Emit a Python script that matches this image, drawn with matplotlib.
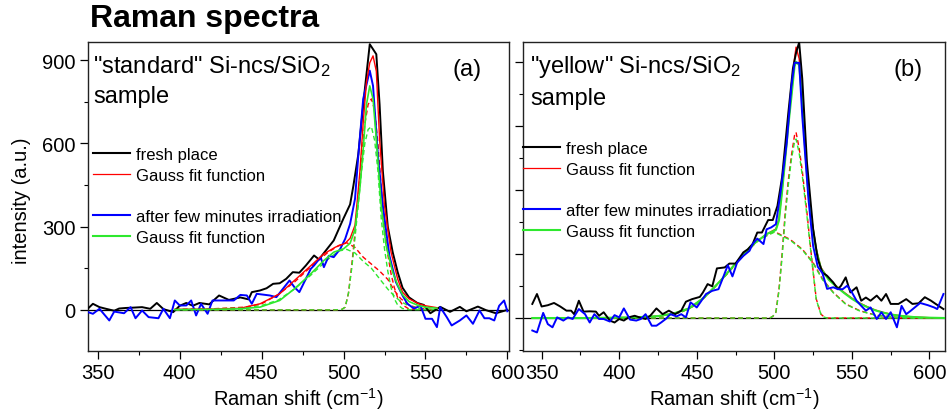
import matplotlib
matplotlib.use("Agg")
import matplotlib.pyplot as plt
from matplotlib.lines import Line2D
from matplotlib.ticker import MultipleLocator

plt.rcParams['font.family'] = ['Liberation Sans', 'DejaVu Sans']
plt.rcParams['mathtext.fontset'] = 'custom'
plt.rcParams['mathtext.rm'] = 'Liberation Sans'
plt.rcParams['mathtext.it'] = 'Liberation Sans:italic'
plt.rcParams['mathtext.bf'] = 'Liberation Sans:bold'

# ---- panel (a): "standard" sample ----
a_black_x = [344, 347, 351, 355, 360, 363, 367, 371, 377, 382, 386, 390, 396, 400, 404,
             408, 412, 418, 424, 430, 437, 442, 444, 449, 453, 457, 461, 465, 469, 473,
             477, 482, 485, 490, 494, 497, 500, 504, 506, 509, 513, 516, 520, 522, 524,
             527, 530, 533, 536, 540, 545, 549, 553, 559, 565, 571, 575, 582, 587, 593, 600]
a_black_y = [5, 22, 10, 4, -3, 5, 7, 8, 10, 4, 25, 3, -8, 15, 25,
             15, 25, 20, 52, 36, 45, 38, 64, 70, 78, 94, 96, 112, 136, 134,
             160, 196, 182, 220, 250, 290, 330, 380, 447, 560, 795, 957, 921, 740, 500,
             300, 208, 137, 80, 45, 25, 18, -12, 11, -7, 11, -5, 12, -1, -12, 0]

a_blue_x = [344, 347, 351, 357, 360, 366, 370, 373, 377, 381, 387, 390, 394, 397, 400,
            404, 407, 410, 413, 417, 420, 425, 433, 437, 441, 444, 447, 451, 455, 459,
            463, 467, 470, 473, 476, 480, 482, 486, 488, 491, 494, 498, 501, 504, 507,
            509, 512, 516, 518, 521, 524, 528, 532, 536, 539, 543, 547, 550, 554, 557,
            559, 563, 566, 571, 575, 579, 583, 586, 589, 592, 595, 598, 600]
a_blue_y = [-8, -14, 4, -38, -6, -12, 10, -30, -2, -26, -30, 4, -30, 34, 16,
            16, 34, -20, 22, -14, 34, 34, 34, 54, 52, 22, 58, 55, 52, 46,
            76, 106, 82, 64, 100, 148, 160, 190, 154, 195, 190, 220, 256, 310, 400,
            555, 760, 862, 807, 555, 375, 195, 100, 52, 22, 5, 15, -32, -32, -62,
            10, -26, -56, -38, -20, -50, -2, -30, -30, -38, 15, 34, -5]

a_redfit_x = [397, 420, 437, 449, 461, 470, 479, 488, 495, 501, 504, 507, 510, 512, 514,
              516, 518, 520, 522, 525, 529, 533, 536, 540, 546, 550, 557]
a_redfit_y = [2, 3, 6, 22, 58, 106, 154, 202, 226, 240, 258, 305, 500, 675, 820,
              890, 915, 860, 615, 375, 208, 112, 64, 40, 22, 15, 8]

a_greenfit_x = [397, 420, 437, 449, 461, 470, 479, 488, 494, 500, 504, 507, 510, 512, 514,
                516, 518, 520, 523, 526, 530, 533, 536, 540, 546, 550, 557]
a_greenfit_y = [1, 2, 4, 10, 34, 76, 124, 178, 208, 220, 240, 290, 440, 580, 740,
                807, 760, 615, 375, 231, 136, 90, 55, 30, 15, 10, 6]

a_comp_x = [397, 420, 440, 450, 460, 470, 480, 490, 497, 502, 507, 512, 517, 522, 527,
            531, 535, 540, 545, 550, 557]
a_red_broad = [2, 4, 10, 22, 55, 100, 155, 205, 232, 242, 225, 190, 165, 140, 110,
               70, 40, 18, 7, 3, 1]
a_green_broad = [1, 3, 8, 16, 35, 75, 125, 180, 212, 218, 205, 175, 150, 112, 75,
                 50, 30, 14, 7, 3, 1]

a_narrow_x = [397, 495, 499, 501, 503, 505, 507, 509, 511, 513, 515, 517, 519, 521, 523,
              525, 527, 529, 531, 533, 536, 540, 557]
a_red_narrow = [0, 0, 2, 10, 60, 160, 280, 410, 550, 670, 740, 760, 720, 600, 440,
                310, 200, 130, 80, 45, 18, 3, 0]
a_green_narrow = [0, 0, 2, 10, 60, 150, 260, 380, 500, 600, 650, 660, 610, 500, 330,
                  220, 140, 80, 40, 18, 5, 1, 0]

# ---- panel (b): "yellow" sample ----
b_black_x = [344, 347, 350, 354, 358, 362, 366, 369, 371, 374, 377, 381, 385, 387, 390,
             394, 397, 400, 403, 406, 410, 413, 417, 420, 424, 428, 432, 436, 440, 443,
             447, 452, 454, 457, 460, 463, 468, 471, 475, 480, 483, 486, 489, 492, 496,
             499, 502, 505, 509, 512, 514, 516, 518, 521, 525, 528, 531, 534, 538, 541,
             543, 546, 549, 553, 556, 559, 562, 566, 569, 572, 575, 580, 585, 589, 593,
             597, 601, 604, 609]
b_black_y = [44, 75, 36, 40, 47, 36, 23, 23, 12, 54, 20, 21, 20, 7, 18,
             -8, -14, -3, -8, 2, 7, 2, -3, 7, 30, 12, 23, 12, 23, 51,
             59, 66, 80, 106, 99, 155, 158, 170, 170, 205, 215, 231, 267, 267, 306,
             306, 350, 440, 640, 780, 828, 861, 747, 487, 278, 184, 142, 132, 111, 90,
             101, 127, 80, 96, 54, 64, 54, 70, 54, 75, 44, 44, 59, 44, 46,
             65, 54, 44, 28]

b_blue_x = [344, 347, 351, 354, 357, 360, 364, 367, 370, 374, 378, 381, 384, 387, 390,
            394, 397, 400, 403, 407, 411, 414, 417, 421, 424, 427, 430, 433, 437, 440,
            443, 446, 450, 453, 456, 460, 464, 467, 470, 473, 476, 480, 484, 486, 489,
            493, 495, 498, 501, 504, 508, 511, 513, 516, 518, 522, 525, 528, 531, 534,
            538, 541, 544, 547, 550, 553, 556, 559, 562, 566, 569, 572, 575, 579, 582,
            585, 588, 594, 599, 603, 605, 609]
b_blue_y = [-39, -45, 16, -19, -29, 2, -8, 2, -3, 28, 12, -14, 12, -3, -3,
            -11, 9, 2, 30, -5, -8, -3, 12, -24, -24, -14, -3, 12, 5, 12,
            2, 49, 33, 54, 75, 85, 90, 127, 165, 130, 173, 194, 210, 231, 248,
            231, 277, 283, 293, 392, 548, 724, 797, 797, 631, 371, 225, 160, 140, 91,
            96, 90, 90, 101, 80, 54, 38, 23, 33, -3, 18, -3, 18, -29, 38,
            12, 23, 47, 40, 33, 28, 75]

b_fit_x = [344, 380, 410, 425, 435, 445, 455, 465, 475, 485, 495, 501, 503, 505, 507,
           509, 511, 513, 514, 516, 518, 520, 522, 524, 527, 530, 535, 540, 545, 550,
           555, 560, 565, 570, 575, 581, 590, 600, 610]
b_redfit_y = [0, 0, 2, 6, 14, 30, 65, 115, 170, 225, 262, 278, 310, 400, 500,
              610, 700, 810, 846, 810, 690, 530, 400, 310, 216, 158, 122, 100, 80, 62,
              47, 35, 25, 18, 12, 7, 3, 1, 0]
b_greenfit_y = [0, 0, 2, 6, 14, 30, 65, 115, 170, 225, 262, 275, 305, 395, 495,
                600, 690, 785, 800, 790, 680, 520, 390, 305, 212, 155, 120, 98, 78, 60,
                45, 34, 24, 17, 11, 7, 3, 1, 0]

b_broad_x = [344, 400, 420, 430, 440, 450, 460, 470, 480, 490, 500, 510, 518, 525, 531,
             538, 546, 555, 566, 580, 595, 610]
b_red_broad = [0, 1, 3, 8, 18, 42, 88, 140, 195, 245, 270, 246, 215, 173, 122,
               80, 44, 23, 8, 2, 0, 0]
b_green_broad = [0, 1, 3, 8, 18, 42, 88, 140, 195, 245, 268, 244, 213, 171, 120,
                 79, 43, 22, 8, 2, 0, 0]

b_narrow_x = [344, 497, 499, 501, 503, 505, 507, 509, 511, 513, 514, 516, 518, 521, 524,
              527, 530, 532, 534, 610]
b_red_narrow = [0, 0, 5, 18, 90, 200, 330, 430, 507, 570, 580, 530, 460, 330, 190,
                60, 12, 4, 0, 0]
b_green_narrow = [0, 0, 5, 18, 85, 190, 315, 415, 495, 550, 559, 515, 445, 320, 185,
                  58, 12, 3, 0, 0]

LIME = '#2ee82e'
DASH = (3.5, 2.2)


def style_axes(ax, xlim, ylim, yticks, yminor, show_ylabels):
    ax.set_xlim(*xlim)
    ax.set_ylim(*ylim)
    ax.xaxis.set_major_locator(MultipleLocator(50))
    ax.xaxis.set_minor_locator(MultipleLocator(25))
    ax.yaxis.set_major_locator(MultipleLocator(yticks))
    ax.yaxis.set_minor_locator(MultipleLocator(yminor))
    ax.tick_params(which='major', direction='out', length=6, width=0.9,
                   labelsize=14.5, pad=3, top=False, right=False)
    ax.tick_params(which='minor', direction='out', length=3, width=0.8,
                   top=False, right=False)
    if not show_ylabels:
        ax.tick_params(axis='y', labelleft=False)
    for s in ax.spines.values():
        s.set_linewidth(1.0)
        s.set_color('#222222')
    ax.set_xlabel('Raman shift (cm$^{-1}$)', fontsize=14.5, labelpad=2)
    ax.axhline(0, color='black', lw=0.9, zorder=1)


def add_legend(ax, x0, y0):
    handles = [Line2D([], [], color='black', lw=1.5),
               Line2D([], [], color='red', lw=0.9),
               Line2D([], [], color='none'),
               Line2D([], [], color='blue', lw=1.5),
               Line2D([], [], color=LIME, lw=1.5)]
    labels = ['fresh place', 'Gauss fit function', ' ',
              'after few minutes irradiation', 'Gauss fit function']
    ax.legend(handles, labels, loc='upper left', bbox_to_anchor=(x0, y0),
              frameon=False, fontsize=12, handlelength=2.2, handletextpad=0.35,
              labelspacing=0.34, borderpad=0, borderaxespad=0)


fig = plt.figure(figsize=(9.52, 4.14), dpi=100)
ax_a = fig.add_axes([88 / 952, 62 / 414, 421 / 952, 309 / 414])
ax_b = fig.add_axes([523 / 952, 62 / 414, 422 / 952, 309 / 414])

# panel (a)
ax_a.plot(a_comp_x, a_red_broad, color='red', lw=1.0, dashes=DASH, zorder=3)
ax_a.plot(a_narrow_x, a_red_narrow, color='red', lw=1.0, dashes=DASH, zorder=3)
ax_a.plot(a_comp_x, a_green_broad, color=LIME, lw=1.0, dashes=DASH, zorder=3)
ax_a.plot(a_narrow_x, a_green_narrow, color=LIME, lw=1.0, dashes=DASH, zorder=3)
ax_a.plot(a_black_x, a_black_y, color='black', lw=1.4, zorder=4)
ax_a.plot(a_blue_x, a_blue_y, color='blue', lw=1.4, zorder=4)
ax_a.plot(a_redfit_x, a_redfit_y, color='red', lw=1.0, zorder=5)
ax_a.plot(a_greenfit_x, a_greenfit_y, color=LIME, lw=1.2, zorder=5)
style_axes(ax_a, (344, 601), (-148, 965), 300, 150, True)
ax_a.set_ylabel('intensity (a.u.)', fontsize=14.5)
ax_a.yaxis.set_label_coords(-0.135, 0.49)
ax_a.text(0.012, 0.903, '"standard" Si-ncs/SiO$_2$', transform=ax_a.transAxes,
          fontsize=17, va='baseline', ha='left')
ax_a.text(0.012, 0.806, 'sample', transform=ax_a.transAxes,
          fontsize=17, va='baseline', ha='left')
ax_a.text(0.936, 0.893, '(a)', transform=ax_a.transAxes,
          fontsize=17, va='baseline', ha='right')
add_legend(ax_a, 0.012, 0.660)

# panel (b)
ax_b.plot(b_broad_x, b_red_broad, color='red', lw=1.0, dashes=DASH, zorder=3)
ax_b.plot(b_narrow_x, b_red_narrow, color='red', lw=1.0, dashes=DASH, zorder=3)
ax_b.plot(b_broad_x, b_green_broad, color=LIME, lw=1.0, dashes=DASH, zorder=3)
ax_b.plot(b_narrow_x, b_green_narrow, color=LIME, lw=1.0, dashes=DASH, zorder=3)
ax_b.plot(b_fit_x, b_redfit_y, color='red', lw=1.0, zorder=4)
ax_b.plot(b_fit_x, b_greenfit_y, color=LIME, lw=1.5, zorder=4)
ax_b.plot(b_black_x, b_black_y, color='black', lw=1.4, zorder=5)
ax_b.plot(b_blue_x, b_blue_y, color='blue', lw=1.4, zorder=5)
style_axes(ax_b, (338, 610), (-103, 862), 200, 100, False)
ax_b.text(0.017, 0.903, '"yellow" Si-ncs/SiO$_2$', transform=ax_b.transAxes,
          fontsize=17, va='baseline', ha='left')
ax_b.text(0.017, 0.800, 'sample', transform=ax_b.transAxes,
          fontsize=17, va='baseline', ha='left')
ax_b.text(0.948, 0.893, '(b)', transform=ax_b.transAxes,
          fontsize=17, va='baseline', ha='right')
add_legend(ax_b, 0.0, 0.680)

fig.text(90 / 952, 1 - 27 / 414, 'Raman spectra', fontsize=23,
         fontweight='bold', va='baseline', ha='left')

fig.savefig('out.png', dpi=100)
